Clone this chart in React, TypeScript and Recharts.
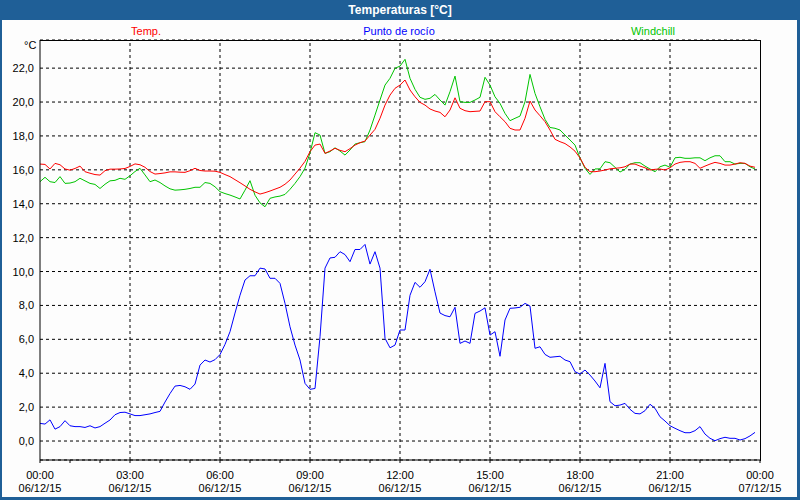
import React from "react";
import { CartesianGrid, Line, LineChart, ReferenceLine, XAxis, YAxis } from "recharts";

// 10-minute samples, 06/12/15 00:00 .. 23:50
const temp = [
  16.34, 16.32, 16.05, 16.38, 16.3, 16.05, 15.98, 16.08, 16.22, 15.89, 15.8, 15.72,
  15.69, 15.95, 16.04, 16.04, 16.05, 16.08, 16.2, 16.35, 16.3, 16.15, 15.9, 15.75,
  15.78, 15.82, 15.88, 15.88, 15.86, 15.85, 15.95, 16.09, 15.96, 15.93, 15.93, 15.92,
  15.85, 15.72, 15.6, 15.42, 15.24, 15.05, 14.85, 14.7, 14.57, 14.65, 14.75, 14.86,
  14.97, 15.15, 15.4, 15.75, 16.1, 16.5, 17.07, 17.46, 17.52, 16.97, 17.11, 17.27,
  17.15, 17.07, 17.25, 17.46, 17.6, 17.7, 18.05, 18.39, 19.04, 19.82, 20.41, 20.81,
  21.0, 21.3, 20.71, 20.31, 19.98, 19.82, 19.59, 19.47, 19.39, 19.13, 19.53, 20.25,
  19.63, 19.49, 19.43, 19.45, 19.47, 20.02, 20.02, 19.43, 19.13, 18.84, 18.45, 18.35,
  18.35, 19.04, 20.06, 19.53, 19.19, 18.84, 18.35, 17.8, 17.66, 17.55, 17.35, 17.1,
  16.7, 16.15, 15.89, 15.89, 15.93, 15.99, 16.06, 16.09, 16.12, 16.18, 16.34, 16.34,
  16.22, 16.12, 15.99, 16.03, 16.05, 15.99, 16.12, 16.34, 16.44, 16.48, 16.48, 16.38,
  16.09, 16.22, 16.34, 16.44, 16.38, 16.28, 16.28, 16.34, 16.42, 16.38, 16.22, 16.15,
];

const dewPoint = [
  1.04, 1.0, 1.25, 0.7, 0.85, 1.2, 0.9, 0.85, 0.85, 0.8, 0.9, 0.77,
  0.85, 1.05, 1.24, 1.55, 1.68, 1.7, 1.6, 1.5, 1.5, 1.55, 1.6, 1.68,
  1.75, 2.3, 2.8, 3.24, 3.28, 3.2, 3.05, 3.36, 4.48, 4.78, 4.66, 4.8,
  5.1, 5.7, 6.45, 7.55, 8.6, 9.5, 9.75, 9.75, 10.2, 10.15, 9.6, 9.6,
  9.3, 8.12, 6.74, 5.66, 4.78, 3.4, 3.05, 3.1, 6.15, 10.2, 10.8, 10.84,
  11.17, 11.0, 10.58, 11.3, 11.3, 11.6, 10.44, 11.17, 10.2, 6.06, 5.5, 5.66,
  6.55, 6.55, 8.6, 9.36, 9.07, 9.4, 10.13, 8.8, 7.55, 7.4, 7.33, 7.89,
  5.76, 5.9, 5.76, 7.53, 7.67, 7.86, 6.25, 6.45, 5.0, 7.14, 7.83, 7.85,
  7.89, 8.12, 7.96, 5.47, 5.56, 5.11, 4.94, 4.97, 5.0, 4.78, 4.68, 4.09,
  3.95, 4.19, 3.89, 3.54, 3.14, 4.58, 2.32, 2.08, 2.12, 2.22, 1.87, 1.63,
  1.6, 1.79, 2.17, 1.93, 1.43, 1.18, 0.9, 0.75, 0.61, 0.49, 0.49, 0.61,
  0.85, 0.41, 0.16, 0.02, 0.14, 0.22, 0.16, 0.16, 0.06, 0.14, 0.3, 0.51,
];

const windchill = [
  15.3, 15.56, 15.3, 15.25, 15.6, 15.2, 15.22, 15.3, 15.5, 15.35, 15.2, 15.14,
  14.9, 15.15, 15.35, 15.38, 15.5, 15.44, 15.65, 15.9, 16.09, 15.7, 15.3, 15.4,
  15.25, 15.05, 14.88, 14.8, 14.82, 14.85, 14.9, 14.97, 14.97, 15.25, 15.2, 15.0,
  14.71, 14.6, 14.51, 14.4, 14.28, 14.8, 15.36, 14.5, 14.05, 13.82, 14.32, 14.4,
  14.45, 14.55, 14.85, 15.2, 15.6, 16.1, 17.0, 18.19, 18.05, 16.97, 17.07, 17.3,
  17.11, 16.87, 17.17, 17.52, 17.6, 17.66, 18.35, 19.23, 20.12, 21.0, 21.4, 21.99,
  22.12, 22.52, 21.4, 20.75, 20.28, 20.16, 20.22, 20.45, 20.12, 19.82, 20.61, 21.53,
  20.02, 19.98, 19.98, 20.12, 20.28, 21.46, 21.0, 20.31, 19.92, 19.33, 18.9, 19.04,
  19.17, 20.02, 21.63, 20.51, 19.72, 18.98, 18.5, 18.45, 18.35, 18.05, 17.76, 17.46,
  16.7, 16.09, 15.73, 16.05, 16.06, 16.48, 16.42, 16.15, 15.87, 16.03, 16.34, 16.42,
  16.42, 16.22, 16.05, 15.89, 16.18, 16.28, 16.15, 16.71, 16.74, 16.68, 16.68, 16.71,
  16.71, 16.54, 16.71, 16.83, 16.83, 16.48, 16.48, 16.34, 16.38, 16.38, 16.18, 16.05,
];

const yTicks = [0, 2, 4, 6, 8, 10, 12, 14, 16, 18, 20, 22];
const hourTicks = [
  0, 60, 120, 180, 240, 300, 360, 420, 480, 540, 600, 660, 720,
  780, 840, 900, 960, 1020, 1080, 1140, 1200, 1260, 1320, 1380, 1440,
];
const majorTicks = [0, 180, 360, 540, 720, 900, 1080, 1260, 1440];
const majorTimes = ["00:00", "03:00", "06:00", "09:00", "12:00", "15:00", "18:00", "21:00", "00:00"];
const majorDates = [
  "06/12/15", "06/12/15", "06/12/15", "06/12/15", "06/12/15",
  "06/12/15", "06/12/15", "06/12/15", "07/12/15",
];

const data = temp.map((t, i) => ({
  min: i * 10,
  temp: t,
  dew: dewPoint[i],
  wind: windchill[i],
}));

const FONT = "'Liberation Sans', Arial, sans-serif";
const FRAME = "#1f5f97";
const RED = "#ff0000";
const BLUE = "#0000ff";
const GREEN = "#00c400";

function XTick(props: any) {
  const { x, y, payload } = props;
  const idx = majorTicks.indexOf(payload.value);
  return (
    <g>
      <line x1={x} x2={x} y1={y} y2={y + 3} stroke="#000" />
      {idx >= 0 && (
        <>
          <text x={x} y={y + 19} textAnchor="middle" fontSize={11} fontFamily={FONT} fill="#000">
            {majorTimes[idx]}
          </text>
          <text x={x} y={y + 32} textAnchor="middle" fontSize={11} fontFamily={FONT} fill="#000">
            {majorDates[idx]}
          </text>
        </>
      )}
    </g>
  );
}

function YTick(props: any) {
  const { x, y, payload } = props;
  return (
    <text x={x - 4} y={y + 4} textAnchor="end" fontSize={11} fontFamily={FONT} fill="#000">
      {payload.value.toFixed(1).replace(".", ",")}
    </text>
  );
}

export default function App() {
  return (
    <div style={{ position: "relative", width: 800, height: 500, background: "#fdfdfd", fontFamily: FONT }}>
      <style>{"body{margin:0}"}</style>
      <div
        style={{
          position: "absolute",
          left: 0,
          top: 0,
          width: 800,
          height: 20,
          background: FRAME,
          color: "#fff",
          fontWeight: "bold",
          fontSize: 12,
          lineHeight: "20px",
          textAlign: "center",
        }}
      >
        Temperaturas [°C]
      </div>
      <div style={{ position: "absolute", left: 96, top: 25, width: 100, textAlign: "center", fontSize: 11, color: RED }}>
        Temp.
      </div>
      <div style={{ position: "absolute", left: 349, top: 25, width: 100, textAlign: "center", fontSize: 11, color: BLUE }}>
        Punto de rocío
      </div>
      <div style={{ position: "absolute", left: 603, top: 25, width: 100, textAlign: "center", fontSize: 11, color: GREEN }}>
        Windchill
      </div>
      <div style={{ position: "absolute", left: 24, top: 39, fontSize: 11, color: "#000" }}>°C</div>
      <div style={{ position: "absolute", left: 0, top: 0 }}>
        <LineChart width={800} height={500} data={data} margin={{ top: 40, right: 40, bottom: 0, left: 5 }}>
          <CartesianGrid horizontal vertical={false} stroke="#000" strokeDasharray="3 3" />
          {majorTicks.slice(1, -1).map((t) => (
            <ReferenceLine key={t} x={t} stroke="#000" strokeDasharray="3 3" />
          ))}
          <XAxis
            dataKey="min"
            type="number"
            domain={[0, 1440]}
            ticks={hourTicks}
            interval={0}
            height={40}
            tickSize={0}
            tickMargin={0}
            tickLine={false}
            tick={<XTick />}
            axisLine={{ stroke: "#000" }}
          />
          <YAxis
            type="number"
            domain={[-1.12, 23.66]}
            ticks={yTicks}
            interval={0}
            allowDataOverflow
            width={35}
            tickSize={0}
            tickLine={false}
            tick={<YTick />}
            axisLine={{ stroke: "#000" }}
          />
          <Line dataKey="dew" stroke={BLUE} strokeWidth={1} dot={false} isAnimationActive={false} />
          <Line dataKey="wind" stroke={GREEN} strokeWidth={1} dot={false} isAnimationActive={false} />
          <Line dataKey="temp" stroke={RED} strokeWidth={1} dot={false} isAnimationActive={false} />
        </LineChart>
      </div>
      {/* solid top and right edges of the plot box */}
      <div
        style={{
          position: "absolute",
          left: 40,
          top: 40,
          width: 720,
          height: 420,
          borderTop: "1px solid #000",
          borderRight: "1px solid #000",
          pointerEvents: "none",
        }}
      />
      <div
        style={{
          position: "absolute",
          left: 0,
          top: 0,
          width: 800,
          height: 500,
          boxSizing: "border-box",
          borderLeft: `2px solid ${FRAME}`,
          borderRight: `3px solid ${FRAME}`,
          borderBottom: `3px solid ${FRAME}`,
          pointerEvents: "none",
        }}
      />
    </div>
  );
}
